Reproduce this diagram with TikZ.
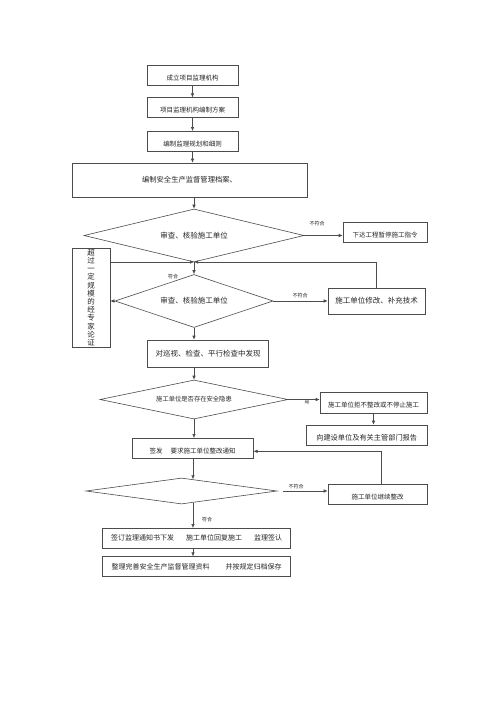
\documentclass[tikz,border=0pt]{standalone}
\usepackage{fontspec}
\newfontfamily\cjk{Noto Sans CJK SC}
\usetikzlibrary{shapes.geometric,arrows.meta,calc}
\begin{document}
\begin{tikzpicture}[x=1pt,y=-1pt,
  every node/.style={font=\cjk, text=black!85},
  box/.style={draw=black!70, line width=0.6pt, inner sep=0pt, align=center},
  dia/.style={draw=black!70, line width=0.6pt, diamond, inner sep=0pt},
  arr/.style={draw=black!70, line width=0.6pt, -{Latex[length=4pt,width=3.5pt]}},
  ln/.style={draw=black!70, line width=0.6pt},
  lbl/.style={font=\cjk\fontsize{5}{6}\selectfont, inner sep=0pt},
  low/.style={text height=10pt, text depth=0pt},
  fs/.style={font=\cjk\fontsize{#1}{#1}\selectfont}
]
\useasboundingbox (0,0) rectangle (500,707);
\fill[white] (0,0) rectangle (500,707);

% top column
\node[box, low, fs=6.5, minimum width=91pt, minimum height=20pt] (b1) at (192.5,75) {成立项目监理机构};
\node[box, low, fs=6.5, minimum width=91pt, minimum height=20pt] (b2) at (192.5,107.7) {项目监理机构编制方案};
\node[box, low, fs=6.5, minimum width=91pt, minimum height=20pt] (b3) at (192.5,141.3) {编制监理规划和细则};
\node[box, fs=7.3, minimum width=235pt, minimum height=34pt] (b4) at (189.5,180) {编制安全生产监督管理档案、};

\node[dia, fs=7.5, aspect=4.15, minimum width=220pt, minimum height=53pt] (d1) at (194,235.5) {审查、核验施工单位};
\node[box, low, fs=6.5, minimum width=84pt, minimum height=20pt] (rb1) at (385,232) {下达工程暂停施工指令};
\node[lbl] (l1) at (317,224) {不符合};

\node[box, fs=7.5, minimum width=38pt, minimum height=99pt, font=\cjk\fontsize{7.5}{8.2}\selectfont] (lb) at (91,297.5)
  {超\\过\\一\\定\\规\\模\\的\\经\\专\\家\\论\\证};

\coordinate (m) at (194,262);
\node[dia, fs=7.5, aspect=2.98, minimum width=158pt, minimum height=53pt] (d2) at (194,301) {审查、核验施工单位};
\node[lbl] (l2) at (173,277) {符合};
\node[box, fs=7.5, minimum width=97pt, minimum height=26pt] (rb2) at (376.5,301) {施工单位修改、补充技术};
\node[lbl] (l3) at (300,296) {不符合};

\node[box, fs=7.5, minimum width=121pt, minimum height=27pt] (obs) at (208,353.5) {对巡视、检查、平行检查中发现};

\node[dia, fs=6.3, aspect=4.8, minimum width=188pt, minimum height=39pt] (d3) at (194,399.5) {施工单位是否存在安全隐患};
\node[lbl] (l4) at (307,402) {是};
\node[box, low, fs=6.5, minimum width=107pt, minimum height=20.5pt] (rb3) at (373.5,402.7) {施工单位拒不整改或不停止施工};
\node[box, low, fs=7.2, minimum width=120.5pt, minimum height=20pt] (rb4) at (366.7,435) {向建设单位及有关主管部门报告};

\node[box, low, fs=6.5, minimum width=121pt, minimum height=20pt] (sign) at (192.7,448.3) {签发\hspace{8pt}要求施工单位整改通知};

\node[dia, aspect=7.3, minimum width=191pt, minimum height=26pt] (d4) at (181.5,491) {};
\node[box, low, fs=6.5, minimum width=99pt, minimum height=20pt] (rb5) at (377.5,494) {施工单位继续整改};
\node[lbl] (l5) at (296,487) {不符合};
\node[lbl] (l6) at (207,520) {符合};

\node[box, fs=7, minimum width=188pt, minimum height=20pt] (b5) at (196.7,538.3) {签订监理通知书下发\hspace{12pt}施工单位回复施工\hspace{12pt}监理签认};
\node[box, fs=7, minimum width=188pt, minimum height=20pt] (b6) at (196.7,566.7) {整理完善安全生产监督管理资料\hspace{16pt}并按规定归档保存};

% connectors
\draw[arr] (b1.south) -- (b1.south |- b2.north);
\draw[arr] (b2.south) -- (b2.south |- b3.north);
\draw[arr] (b3.south) -- (b3.south |- b4.north);
\draw[arr] (b4.south -| d1.north) -- (d1.north);
\draw[arr] (d1.east) -- (d1.east -| rb1.west);
\draw[arr] (lb.east |- m) -- (m);
\draw[arr] (rb2.north) |- (m);
\draw[arr] (m) -- (d2.north);
\draw[arr] (d2.west) -- (d2.west -| lb.east);
\draw[arr] (d2.east) -- (d2.east -| rb2.west);
\draw[arr] (d2.south) -- (d2.south |- obs.north);
\draw[arr] (obs.south -| d3.north) -- (d3.north);
\draw[arr] (d3.east) -- (d3.east -| rb3.west);
\draw[arr] (rb3.south) -- (rb3.south |- rb4.north);
\draw[arr] (d3.south) -- (d3.south |- sign.north);
\coordinate (d4in) at ($(d4.north)!0.12!(d4.east)$);
\coordinate (d4out) at ($(d4.south)!0.12!(d4.east)$);
\coordinate (d4r) at ($(d4.east)+(6,0)$);
\draw[arr] (sign.south -| d4in) -- (d4in);
\draw[arr] (d4r) -- (d4r -| rb5.west);
\coordinate (rb5n) at ($(rb5.north)+(4,0)$);
\coordinate (signe) at ($(sign.east)+(0,3)$);
\draw[arr] (rb5n) |- (signe);
\draw[arr] (d4out) -- (d4out |- b5.north);
\draw[arr] (b5.south -| d4out) -- (d4out |- b6.north);
\end{tikzpicture}
\end{document}
